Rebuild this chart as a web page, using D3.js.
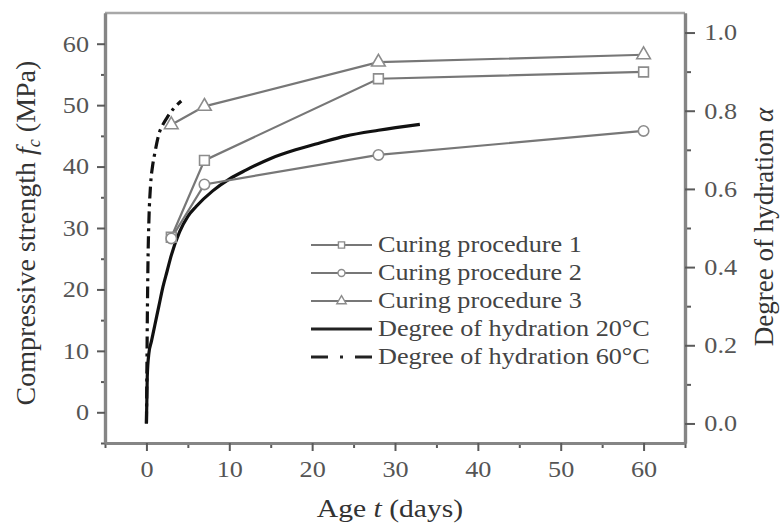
<!DOCTYPE html>
<html>
<head>
<meta charset="utf-8">
<script src="https://cdn.jsdelivr.net/npm/d3@7"></script>
<style>
  html, body { margin: 0; padding: 0; background: #fff; }
  svg { display: block; font-family: "Liberation Serif", "Times New Roman", serif; }
</style>
</head>
<body>
<svg id="chart" width="781" height="524"></svg>
<script>
// Measured ages (days) and compressive strength (MPa) for each curing procedure
const ages = [3, 7, 28, 60];
const curing1 = [28.5, 41.0, 54.3, 55.4];
const curing2 = [28.3, 37.1, 41.9, 45.8];
const curing3 = [46.8, 49.8, 57.0, 58.2];

// Degree of hydration curves (age in days, alpha)
const hyd20Age = [0, 0.1, 0.3, 0.6, 1, 1.5, 2, 2.5, 3, 4, 5, 6, 8, 10, 12, 15, 18, 21, 24, 28, 33];
const hyd20Alpha = [0, 0.12, 0.18, 0.21, 0.25, 0.30, 0.35, 0.39, 0.43, 0.49, 0.53, 0.555, 0.595, 0.625, 0.648, 0.678, 0.70, 0.718, 0.735, 0.75, 0.765];
const hyd60Age = [0, 0.05, 0.1, 0.15, 0.2, 0.3, 0.5, 0.75, 1, 1.5, 2, 2.6, 3.3, 4.2];
const hyd60Alpha = [0, 0.12, 0.25, 0.35, 0.43, 0.52, 0.61, 0.66, 0.69, 0.74, 0.765, 0.786, 0.806, 0.825];

// Tick values
const xTicks = [0, 10, 20, 30, 40, 50, 60];
const xMinor = [-5, 5, 15, 25, 35, 45, 55, 65];
const yTicks = [0, 10, 20, 30, 40, 50, 60];
const yMinor = [-5, 5, 15, 25, 35, 45, 55];
const alphaTicks = [0.0, 0.2, 0.4, 0.6, 0.8, 1.0];
const alphaMinor = [0.1, 0.3, 0.5, 0.7, 0.9];

const legendLabels = [
  "Curing procedure 1",
  "Curing procedure 2",
  "Curing procedure 3",
  "Degree of hydration 20°C",
  "Degree of hydration 60°C"
];

const svg = d3.select("#chart");
const L = 105, R = 685, T = 13, B = 443;
const SX = 1.14; // horizontal text stretch

const x = d3.scaleLinear().domain([-5, 65]).range([L, R]);
const y = d3.scaleLinear().domain([-5, 65]).range([B, T]);
const ya = d3.scaleLinear().domain([-0.05, 1.05]).range([B, T]);

const axisGrey = "#858585";
const tickGrey = "#5a5a5a";
const seriesGrey = "#777";
const markerGrey = "#8c8c8c";

// Top frame line
svg.append("line").attr("x1", L).attr("x2", R).attr("y1", T).attr("y2", T)
  .attr("stroke", "#a8a8a8").attr("stroke-width", 2.5);

function styleAxis(g) {
  g.select(".domain").attr("stroke", axisGrey).attr("stroke-width", 3.2);
  g.selectAll(".tick line").attr("stroke", tickGrey).attr("stroke-width", 2);
  g.selectAll(".tick text").attr("fill", "#555").attr("font-size", 23)
    .attr("font-family", "Liberation Serif");
}

// Minor ticks first, then major axes
svg.append("g").attr("transform", `translate(0,${B})`)
  .call(d3.axisBottom(x).tickValues(xMinor).tickSize(5).tickSizeOuter(0).tickFormat(""))
  .call(styleAxis);
svg.append("g").attr("transform", `translate(${L},0)`)
  .call(d3.axisLeft(y).tickValues(yMinor).tickSize(4).tickSizeOuter(0).tickFormat(""))
  .call(styleAxis);
svg.append("g").attr("transform", `translate(${R},0)`)
  .call(d3.axisRight(ya).tickValues(alphaMinor).tickSize(6).tickSizeOuter(0).tickFormat(""))
  .call(styleAxis);

const gx = svg.append("g").attr("transform", `translate(0,${B})`)
  .call(d3.axisBottom(x).tickValues(xTicks).tickSize(8).tickPadding(10).tickSizeOuter(0))
  .call(styleAxis);
const gy = svg.append("g").attr("transform", `translate(${L},0)`)
  .call(d3.axisLeft(y).tickValues(yTicks).tickSize(8).tickPadding(6).tickSizeOuter(0))
  .call(styleAxis);
const ga = svg.append("g").attr("transform", `translate(${R},0)`)
  .call(d3.axisRight(ya).tickValues(alphaTicks).tickSize(10).tickPadding(7).tickSizeOuter(0).tickFormat(d3.format(".1f")))
  .call(styleAxis);

// Stretch tick labels horizontally
[gx, gy, ga].forEach(g => g.selectAll(".tick text").attr("transform", `scale(${SX},1)`));

// Degree of hydration curves (right axis)
const hydLine = d3.line().x(d => x(d[0])).y(d => ya(d[1])).curve(d3.curveMonotoneX);
svg.append("path")
  .datum(d3.zip(hyd20Age, hyd20Alpha))
  .attr("d", hydLine).attr("fill", "none").attr("stroke", "#111").attr("stroke-width", 3.2);
svg.append("path")
  .datum(d3.zip(hyd60Age, hyd60Alpha))
  .attr("d", hydLine).attr("fill", "none").attr("stroke", "#111").attr("stroke-width", 3.2)
  .attr("stroke-dasharray", "12,5,3,5");

// Curing procedure series (left axis)
const strLine = d3.line().x(d => x(d[0])).y(d => y(d[1]));
const series = [
  { vals: curing1, sym: d3.symbolSquare, size: 95 },
  { vals: curing2, sym: d3.symbolCircle, size: 85 },
  { vals: curing3, sym: d3.symbolTriangle, size: 80 }
];
series.forEach(s => {
  svg.append("path").datum(d3.zip(ages, s.vals))
    .attr("d", strLine).attr("fill", "none").attr("stroke", seriesGrey).attr("stroke-width", 2.2);
});
series.forEach(s => {
  svg.append("g").selectAll("path").data(d3.zip(ages, s.vals)).join("path")
    .attr("transform", d => `translate(${x(d[0])},${y(d[1])})`)
    .attr("d", d3.symbol(s.sym, s.size)())
    .attr("fill", "#fff").attr("stroke", markerGrey).attr("stroke-width", 1.6);
});

// Legend
const lgX0 = 311, lgX1 = 372, lgTx = 378, lgY0 = 245, lgDy = 28;
const legend = svg.append("g");
legendLabels.forEach((lab, i) => {
  const cy = lgY0 + i * lgDy;
  const row = legend.append("g");
  if (i < 3) {
    row.append("line").attr("x1", lgX0).attr("x2", lgX1).attr("y1", cy).attr("y2", cy)
      .attr("stroke", seriesGrey).attr("stroke-width", 2.2);
    row.append("path").attr("transform", `translate(${(lgX0 + lgX1) / 2},${cy})`)
      .attr("d", d3.symbol(series[i].sym, 38)())
      .attr("fill", "#fff").attr("stroke", markerGrey).attr("stroke-width", 1.4);
  } else {
    row.append("line").attr("x1", lgX0).attr("x2", lgX1).attr("y1", cy).attr("y2", cy)
      .attr("stroke", "#222").attr("stroke-width", 3.2)
      .attr("stroke-dasharray", i === 4 ? "17,12,3,12,17" : null);
  }
  row.append("text")
    .attr("transform", `translate(${lgTx},${cy + 7}) scale(${SX},1)`)
    .attr("font-size", 23).attr("fill", "#444").text(lab);
});

// Axis titles
const xt = svg.append("text")
  .attr("transform", `translate(${(L + R) / 2 - 5},${517}) scale(${SX},1)`)
  .attr("text-anchor", "middle").attr("font-size", 26).attr("fill", "#333");
xt.append("tspan").text("Age ");
xt.append("tspan").attr("font-style", "italic").text("t");
xt.append("tspan").text(" (days)");

const yt = svg.append("text")
  .attr("transform", `translate(35,${233}) rotate(-90)`)
  .attr("text-anchor", "middle").attr("font-size", 28).attr("fill", "#333");
yt.append("tspan").text("Compressive strength ");
yt.append("tspan").attr("font-style", "italic").text("f");
yt.append("tspan").attr("font-style", "italic").attr("font-size", 18).attr("dy", 5).text("c");
yt.append("tspan").attr("dy", -5).text(" (MPa)");

const at = svg.append("text")
  .attr("transform", `translate(773,${227}) rotate(-90)`)
  .attr("text-anchor", "middle").attr("font-size", 27).attr("fill", "#333");
at.append("tspan").text("Degree of hydration ");
at.append("tspan").attr("font-style", "italic").text("α");
</script>
</body>
</html>
